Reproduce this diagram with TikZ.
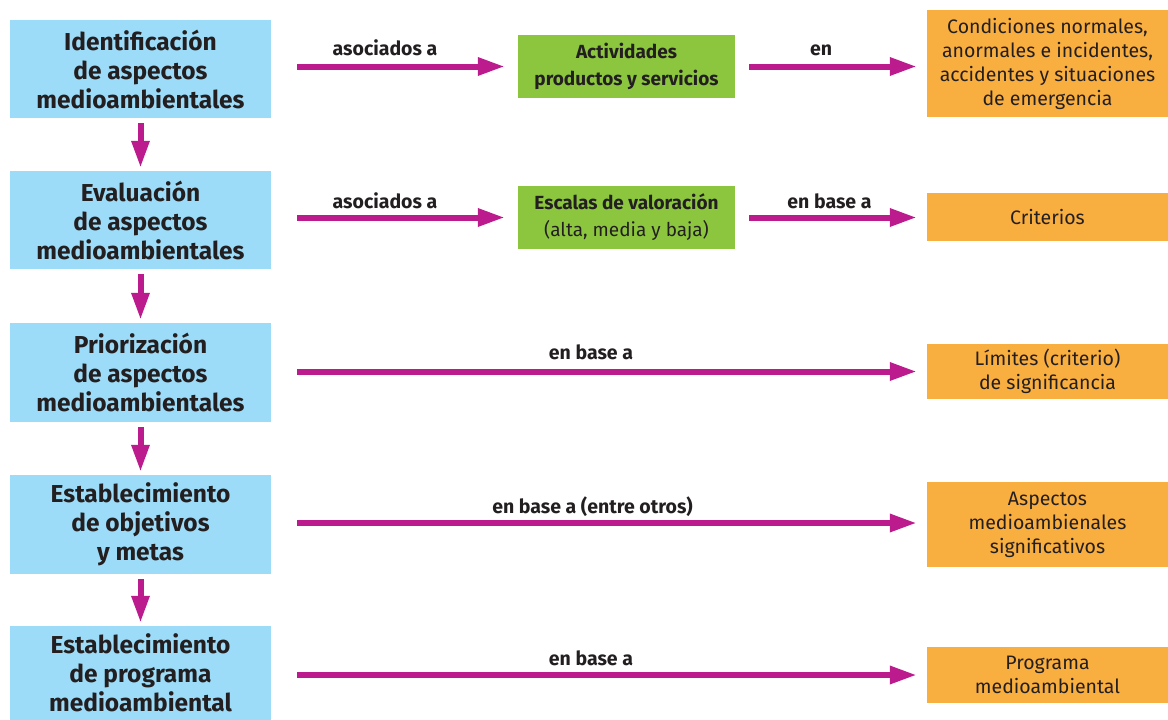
\documentclass[tikz,border=0pt]{standalone}
\usepackage{fontspec}
\setmainfont{Fira Sans}
\usetikzlibrary{arrows.meta}
\definecolor{bluebg}{HTML}{9DDCF8}
\definecolor{greenbg}{HTML}{8CC63F}
\definecolor{orangebg}{HTML}{F9AE40}
\definecolor{magenta}{HTML}{BC1B8D}
\definecolor{ink}{HTML}{231F20}
\tikzset{
  bluebox/.style={fill=bluebg, draw=none, text=ink, align=center, inner sep=0pt,
    minimum width=261pt, font=\fontsize{24.5}{29}\selectfont\bfseries},
  greenbox/.style={fill=greenbg, draw=none, text=ink, align=center, inner sep=0pt,
    minimum width=217pt, minimum height=63pt, font=\fontsize{19}{27}\selectfont},
  orangebox/.style={fill=orangebg, draw=none, text=ink, align=center, inner sep=0pt,
    minimum width=241pt, font=\fontsize{19.5}{24}\selectfont},
  lbl/.style={text=ink, anchor=base, inner sep=0pt, font=\fontsize{19.5}{22}\selectfont\bfseries},
  harrow/.style={draw=magenta, line width=6pt, -{Triangle[length=27pt,width=17pt]}},
  varrow/.style={draw=magenta, line width=6pt, -{Triangle[length=27pt,width=17pt]}},
}
\begin{document}
\begin{tikzpicture}[x=1pt,y=-1pt]
\useasboundingbox (0,0) rectangle (1168,720);
% blue boxes
\node[bluebox, minimum height=98pt] (b1) at (140.5,69) {Identificación\\de aspectos\\medioambientales};
\node[bluebox, minimum height=98pt] (b2) at (140.5,220) {Evaluación\\de aspectos\\medioambientales};
\node[bluebox, minimum height=99pt] (b3) at (140.5,372.5) {Priorización\\de aspectos\\medioambientales};
\node[bluebox, minimum height=99pt] (b4) at (140.5,524.5) {Establecimiento\\de objetivos\\y metas};
\node[bluebox, minimum height=94pt] (b5) at (140.5,673) {Establecimiento\\de programa\\medioambiental};
% green boxes
\node[greenbox] (g1) at (626.5,66.5) {\bfseries Actividades\\\bfseries productos y servicios};
\node[greenbox] (g2) at (626.5,217.5) {\bfseries Escalas de valoración\\(alta, media y baja)};
% orange boxes
\node[orangebox, minimum height=107pt] (o1) at (1047.5,63.5) {Condiciones normales,\\anormales e incidentes,\\accidentes y situaciones\\de emergencia};
\node[orangebox, minimum height=48pt] (o2) at (1047.5,217) {Criterios};
\node[orangebox, minimum height=55pt] (o3) at (1047.5,371.5) {Límites (criterio)\\de significancia};
\node[orangebox, minimum height=85pt] (o4) at (1047.5,524.5) {Aspectos\\medioambienales\\significativos};
\node[orangebox, minimum height=56pt] (o5) at (1047.5,675) {Programa\\medioambiental};
% vertical arrows
\draw[varrow] ([yshift=-5pt]b1.south) -- ([yshift=3pt]b2.north);
\draw[varrow] ([yshift=-5pt]b2.south) -- ([yshift=3pt]b3.north);
\draw[varrow] ([yshift=-5pt]b3.south) -- ([yshift=3pt]b4.north);
\draw[varrow] ([yshift=-5pt]b4.south) -- ([yshift=3pt]b5.north);
% horizontal arrows
\draw[harrow] ([xshift=26pt]b1.east |- g1.west) -- ([xshift=-13pt]g1.west);
\draw[harrow] ([xshift=14pt]g1.east) -- ([xshift=-10pt]g1.east -| o1.west);
\draw[harrow] ([xshift=26pt]b2.east |- g2.west) -- ([xshift=-13pt]g2.west);
\draw[harrow] ([xshift=14pt]g2.east) -- ([xshift=-10pt]g2.east -| o2.west);
\draw[harrow] ([xshift=26pt]b3.east |- o3.west) -- ([xshift=-10pt]o3.west);
\draw[harrow] ([xshift=26pt]b4.east |- 0,523) -- ([xshift=-10pt]o4.west |- 0,523);
\draw[harrow] ([xshift=26pt]b5.east |- o5.west) -- ([xshift=-10pt]o5.west);
% labels
\node[lbl] (l11) at (385,55) {asociados a};
\node[lbl] (l12) at (821,55) {en};
\node[lbl] (l21) at (385,208) {asociados a};
\node[lbl] (l22) at (829.5,208) {en base a};
\node[lbl] (l3) at (591,359) {en base a};
\node[lbl] (l4) at (592.5,513) {en base a (entre otros)};
\node[lbl] (l5) at (591,665) {en base a};
\end{tikzpicture}
\end{document}
